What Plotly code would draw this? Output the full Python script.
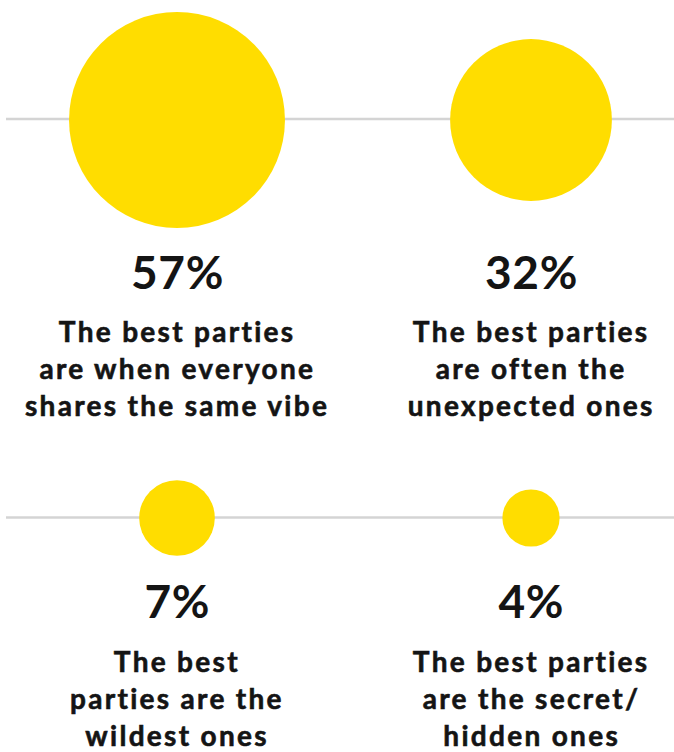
import plotly.graph_objects as go

# Data
values = [57, 32, 7, 4]
pct_labels = ["57%", "32%", "7%", "4%"]
descriptions = [
    ["The best parties", "are when everyone", "shares the same vibe"],
    ["The best parties", "are often the", "unexpected ones"],
    ["The best", "parties are the", "wildest ones"],
    ["The best parties", "are the secret/", "hidden ones"],
]

# Layout (pixel-space axes)
W, H = 674, 752
col_x = [177, 531, 177, 531]
row_y = [120, 120, 518, 518]
line_rows = [119, 517.5]
scale = 14.3  # px radius per sqrt(percent)
yellow = "#FFDD00"
ink = "#141414"

fig = go.Figure()
fig.add_trace(go.Scatter(
    x=col_x, y=row_y, mode="markers",
    marker=dict(size=[2 * scale * v ** 0.5 for v in values], color=yellow,
                line=dict(width=0), opacity=1),
    hoverinfo="skip", showlegend=False,
))

shapes = []
for ly in line_rows:
    shapes.append(dict(type="line", xref="x", yref="y", x0=6, x1=W + 5, y0=ly, y1=ly,
                       line=dict(color="#d4d4d4", width=2.5), layer="below"))

annotations = []
pct_baseline = [289, 289, 618, 618]
desc_baseline = [342, 342, 672, 672]
line_gap = 37
for i in range(4):
    annotations.append(dict(
        x=col_x[i], y=pct_baseline[i] - 0.387 * 46, xref="x", yref="y",
        text=pct_labels[i], showarrow=False, xanchor="center", yanchor="middle",
        font=dict(family="Lato", size=46, color=ink, weight=700)))
    for j, line in enumerate(descriptions[i]):
        annotations.append(dict(
            x=col_x[i], y=desc_baseline[i] + j * line_gap - 0.387 * 28, xref="x", yref="y",
            text=line, showarrow=False, xanchor="center", yanchor="middle",
            font=dict(family="Lato", size=28, color=ink, weight=700)))

fig.update_layout(
    width=W, height=H,
    margin=dict(l=0, r=0, t=0, b=0),
    paper_bgcolor="white", plot_bgcolor="white",
    xaxis=dict(range=[0, W], visible=False, fixedrange=True),
    yaxis=dict(range=[H, 0], visible=False, fixedrange=True),
    shapes=shapes, annotations=annotations,
)

css = ("body{margin:0;overflow:hidden}"
       "text.annotation-text[style*='font-size: 28px']{letter-spacing:2.3px;"
       "stroke:" + ink + ";stroke-width:0.6px}"
       "text.annotation-text[style*='font-size: 46px']{letter-spacing:0.6px}")
post = ("var s=document.createElement('style');s.textContent=\"" + css + "\";"
        "document.head.appendChild(s);")

fig.write_html("out.html", post_script=post, config={"displayModeBar": False})
